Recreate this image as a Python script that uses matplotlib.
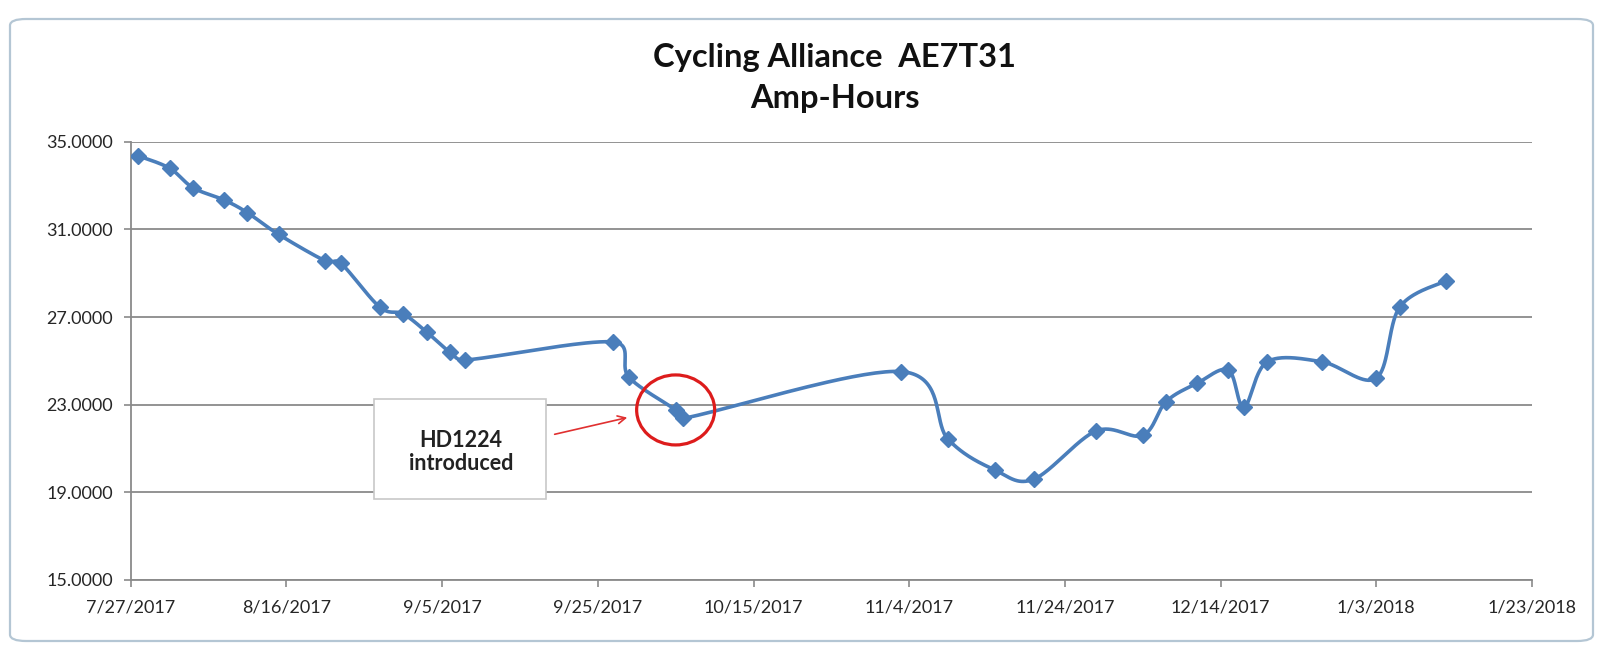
import datetime as dt
import numpy as np
import matplotlib
matplotlib.use("Agg")
import matplotlib.pyplot as plt
import matplotlib.dates as mdates
from matplotlib.patches import Ellipse, Rectangle, FancyBboxPatch
from matplotlib.transforms import ScaledTranslation

# ---------------- data ----------------
dates = ["2017-07-28", "2017-08-01", "2017-08-04", "2017-08-08", "2017-08-11",
         "2017-08-15", "2017-08-21", "2017-08-23", "2017-08-28", "2017-08-31",
         "2017-09-03", "2017-09-06", "2017-09-08", "2017-09-27", "2017-09-29",
         "2017-10-05", "2017-10-06", "2017-11-03", "2017-11-09", "2017-11-15",
         "2017-11-20", "2017-11-28", "2017-12-04", "2017-12-07", "2017-12-11",
         "2017-12-15", "2017-12-17", "2017-12-20", "2017-12-27", "2018-01-03",
         "2018-01-06", "2018-01-12"]
amp_hours = [34.35, 33.79, 32.90, 32.34, 31.76,
             30.77, 29.56, 29.45, 27.45, 27.14,
             26.32, 25.39, 25.04, 25.86, 24.25,
             22.76, 22.38, 24.51, 21.42, 20.02,
             19.60, 21.80, 21.60, 23.14, 23.98,
             24.58, 22.88, 24.96, 24.96, 24.21,
             27.45, 28.66]
x_tick_labels = ["7/27/2017", "8/16/2017", "9/5/2017", "9/25/2017", "10/15/2017",
                 "11/4/2017", "11/24/2017", "12/14/2017", "1/3/2018", "1/23/2018"]
y_ticks = [15, 19, 23, 27, 31, 35]
title = "Cycling Alliance  AE7T31\nAmp-Hours"
note_text = "HD1224\nintroduced"
note_date = "2017-10-05"

FONT = ["Lato", "DejaVu Sans"]
plt.rcParams["font.family"] = FONT

x = mdates.date2num([dt.datetime.strptime(d, "%Y-%m-%d") for d in dates])
y = np.array(amp_hours)
tick_x = mdates.date2num([dt.datetime.strptime(t, "%m/%d/%Y") for t in x_tick_labels])

W, H = 1604, 647
fig = plt.figure(figsize=(W / 100, H / 100), dpi=100)
fig.patch.set_facecolor("white")

# chart frame (Excel chart area)
frame = FancyBboxPatch((10 / W, 6 / H), 1583 / W, 622 / H,
                       boxstyle="round,pad=0,rounding_size=0.01",
                       transform=fig.transFigure, facecolor="none",
                       edgecolor="#b4c6d4", linewidth=1.6, zorder=-1)
fig.patches.append(frame)

left, right = 130.7 / W, 1532 / W
top, bottom = 1 - 141.7 / H, 1 - 580 / H
ax = fig.add_axes([left, bottom, right - left, top - bottom])
ax.set_facecolor("none")
ax.set_xlim(tick_x[0], tick_x[-1])
ax.set_ylim(y_ticks[0], y_ticks[-1])

# gridlines / axes styling
ax.set_yticks(y_ticks)
ax.set_yticklabels([f"{v:.4f}" for v in y_ticks])
ax.set_xticks(tick_x)
ax.set_xticklabels(x_tick_labels)
ax.grid(axis="y", color="#8a8a8a", linewidth=1.3, zorder=1)
ax.set_axisbelow(True)
for s in ["top", "right"]:
    ax.spines[s].set_visible(False)
for s in ["left", "bottom"]:
    ax.spines[s].set_color("#8a8a8a")
    ax.spines[s].set_linewidth(1.3)
ax.tick_params(axis="both", colors="#8a8a8a", length=5, width=1.2,
               labelcolor="#262626", labelsize=13)
ax.tick_params(axis="x", pad=9)
ax.tick_params(axis="y", pad=8)

# Excel-like smoothed line (Catmull-Rom Bezier in display space, handles clamped)
fig.canvas.draw()
pts = ax.transData.transform(np.column_stack([x, y]))
n = len(pts)


def handle(prev_p, next_p, seg_len, k=0.55):
    h = (next_p - prev_p) / 6.0
    hl = np.linalg.norm(h)
    if hl > k * seg_len and hl > 0:
        h = h * (k * seg_len / hl)
    return h


curve = []
for i in range(n - 1):
    p0 = pts[i - 1] if i > 0 else pts[i]
    p1 = pts[i]
    p2 = pts[i + 1]
    p3 = pts[i + 2] if i + 2 < n else pts[i + 1]
    L = np.linalg.norm(p2 - p1)
    c1 = p1 + handle(p0, p2, L)
    c2 = p2 - handle(p1, p3, L)
    t = np.linspace(0, 1, 40)[:, None]
    seg = ((1 - t) ** 3) * p1 + 3 * ((1 - t) ** 2) * t * c1 + 3 * (1 - t) * t ** 2 * c2 + t ** 3 * p2
    curve.append(seg if i == 0 else seg[1:])
curve = np.vstack(curve)
curve_data = ax.transData.inverted().transform(curve)

blue = "#4a7ebb"
ax.plot(curve_data[:, 0], curve_data[:, 1], color=blue, linewidth=2.6, zorder=3,
        solid_capstyle="round")
ax.plot(x, y, linestyle="none", marker="D", markersize=8, color=blue,
        markeredgecolor=blue, zorder=4)

# title
fig.text(0.5 * (left + right) + 0.002, 1 - 78 / H, title, ha="center", va="center",
         fontsize=23.5, fontweight="bold", color="#111111", linespacing=1.5,
         family=FONT)

# annotation box
box = Rectangle((0.1736, 0.1848), 0.1228, 0.2282, transform=ax.transAxes,
                facecolor="white", edgecolor="#c8c8c8", linewidth=1.2, zorder=5)
ax.add_patch(box)
ax.text(0.2355, 0.292, note_text, transform=ax.transAxes, ha="center", va="center",
        fontsize=15.5, fontweight="bold", color="#222222", linespacing=1.12, zorder=6)

# arrow
ax.annotate("", xy=(0.3563, 0.372), xytext=(0.3006, 0.331),
            xycoords="axes fraction", textcoords="axes fraction",
            arrowprops=dict(arrowstyle="->", color="#e03030", lw=1.2,
                            mutation_scale=14), zorder=6)

# red circle around the introduction point
nx = mdates.date2num(dt.datetime.strptime(note_date, "%Y-%m-%d"))
ny = y[list(dates).index(note_date)]
ell = Ellipse((0, 0), 0.78, 0.70, facecolor="none", edgecolor="#dd1c1c",
              linewidth=2.3, zorder=6,
              transform=fig.dpi_scale_trans + ScaledTranslation(nx, ny, ax.transData))
ax.add_patch(ell)

fig.savefig("out.png", dpi=100)
